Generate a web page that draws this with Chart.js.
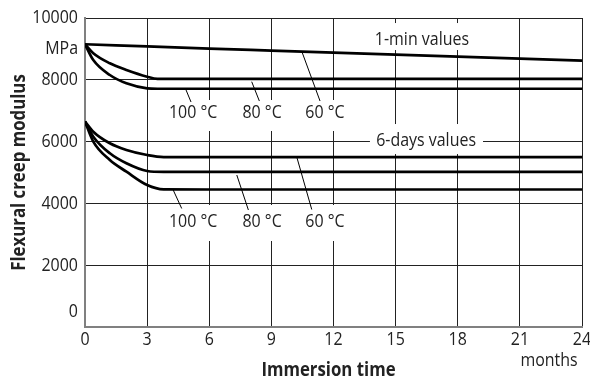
<!DOCTYPE html>
<html><head><meta charset="utf-8">
<script src="https://cdn.jsdelivr.net/npm/chart.js@4/dist/chart.umd.min.js"></script>
<style>html,body{margin:0;padding:0;background:#fff}#wrap{width:590px;height:379px;position:relative}</style>
</head><body><div id="wrap"><canvas id="c" width="590" height="379"></canvas></div>
<script>
// ---- data ----
const xTickValues = [0, 3, 6, 9, 12, 15, 18, 21, 24];
const xTickLabels = ['0', '3', '6', '9', '12', '15', '18', '21', '24'];
const yTickValues = [0, 2000, 4000, 6000, 8000, 9000, 10000];
const yTickLabels = ['0', '2000', '4000', '6000', '8000', 'MPa', '10000'];

// 1-min values
const min1_60C_x = [0, 3, 6, 9, 12, 15, 18, 21, 24];
const min1_60C_y = [9150, 9080, 9010, 8945, 8880, 8815, 8750, 8685, 8620];
const min1_80C_x = [0, 0.4, 1.2, 2.0, 3.0, 3.5, 6, 24];
const min1_80C_y = [9150, 8860, 8534, 8317, 8100, 8030, 8030, 8030];
const min1_100C_x = [0, 0.4, 1.2, 2.0, 3.0, 3.5, 6, 24];
const min1_100C_y = [9150, 8640, 8155, 7886, 7724, 7710, 7710, 7710];

// 6-days values
const day6_60C_x = [0, 0.4, 1.2, 2.0, 3.0, 3.8, 6, 24];
const day6_60C_y = [6650, 6320, 5945, 5728, 5566, 5500, 5500, 5500];
const day6_80C_x = [0, 0.4, 1.2, 2.0, 3.0, 3.8, 6, 24];
const day6_80C_y = [6650, 6160, 5621, 5298, 5049, 5020, 5020, 5020];
const day6_100C_x = [0, 0.4, 1.2, 2.0, 3.0, 3.8, 6, 24];
const day6_100C_y = [6650, 6000, 5404, 5026, 4595, 4455, 4450, 4450];

const seriesLabels = ['1-min 60 °C', '1-min 80 °C', '1-min 100 °C', '6-days 60 °C', '6-days 80 °C', '6-days 100 °C'];
const tempLabels = ['100 °C', '80 °C', '60 °C'];

// ---- helpers ----
const pts = (xs, ys) => xs.map((x, i) => ({ x: x, y: ys[i] }));
const FONT = '"Open Sans", "DejaVu Sans", sans-serif';
const REG = '19px ' + FONT;
const BOLD = 'bold 20px ' + FONT;
const SX = 0.84; // horizontal condensing of text
const TXT = '#222';

const mkDs = (label, xs, ys) => ({
  label, data: pts(xs, ys), borderColor: '#000', borderWidth: 2.7,
  pointRadius: 0, fill: false, cubicInterpolationMode: 'monotone'
});

function text(ctx, t, px, py, align, font, rot) {
  ctx.save();
  ctx.font = font;
  ctx.fillStyle = TXT;
  ctx.textAlign = align;
  ctx.textBaseline = 'middle';
  ctx.translate(px, py);
  if (rot) ctx.rotate(rot);
  ctx.scale(SX, 1);
  ctx.fillText(t, 0, 0);
  ctx.restore();
}

// annotations in data units
const boxes = [
  [3.86, 12.8, 7346, 6343],
  [3.86, 12.8, 3948, 2783],
  [13.86, 18.69, 9837, 8964],
  [13.76, 19.22, 6569, 5598]
];
const leaders = [
  [4.88, 7669, 5.12, 7281], [8.05, 7938, 8.42, 7313], [10.48, 8899, 11.35, 7313],
  [4.26, 4433, 4.67, 3835], [7.33, 4919, 7.89, 3786], [10.24, 5469, 10.95, 3802]
];
const tempLabelX = [5.22, 8.55, 11.59];
const tempLabelY = [6925, 3398];

const annot = {
  id: 'annot',
  beforeDatasetsDraw(chart) {
    const { ctx, scales: { x, y } } = chart;
    ctx.save();
    ctx.fillStyle = '#fff';
    boxes.forEach(b => {
      const x0 = x.getPixelForValue(b[0]), x1 = x.getPixelForValue(b[1]);
      const y0 = y.getPixelForValue(b[2]), y1 = y.getPixelForValue(b[3]);
      ctx.fillRect(x0, y0, x1 - x0, y1 - y0);
    });
    ctx.strokeStyle = '#000'; ctx.lineWidth = 1;
    leaders.forEach(l => {
      ctx.beginPath();
      ctx.moveTo(x.getPixelForValue(l[0]), y.getPixelForValue(l[1]));
      ctx.lineTo(x.getPixelForValue(l[2]), y.getPixelForValue(l[3]));
      ctx.stroke();
    });
    ctx.restore();
    tempLabelY.forEach(vy => tempLabels.forEach((t, i) => {
      text(ctx, t, x.getPixelForValue(tempLabelX[i]), y.getPixelForValue(vy), 'center', REG);
    }));
    text(ctx, '1-min values', x.getPixelForValue(16.27), y.getPixelForValue(9288), 'center', REG);
    text(ctx, '6-days values', x.getPixelForValue(16.47), y.getPixelForValue(6019), 'center', REG);
  },
  afterDraw(chart) {
    const { ctx, scales: { x, y } } = chart;
    // tick labels
    xTickValues.forEach((v, i) => text(ctx, xTickLabels[i], x.getPixelForValue(v), x.top + 13, 'center', REG));
    yTickValues.forEach((v, i) => {
      const off = v === 0 ? -15 : 0;
      text(ctx, yTickLabels[i], y.right - 7, y.getPixelForValue(v) + off, 'right', REG);
    });
    text(ctx, 'months', 549, 361, 'center', REG);
    text(ctx, 'Immersion time', 328.5, 370, 'center', BOLD);
    text(ctx, 'Flexural creep modulus', 19, (y.top + y.bottom) / 2, 'center', BOLD, -Math.PI / 2);
  }
};

new Chart(document.getElementById('c'), {
  type: 'line',
  data: {
    datasets: [
      mkDs(seriesLabels[0], min1_60C_x, min1_60C_y),
      mkDs(seriesLabels[1], min1_80C_x, min1_80C_y),
      mkDs(seriesLabels[2], min1_100C_x, min1_100C_y),
      mkDs(seriesLabels[3], day6_60C_x, day6_60C_y),
      mkDs(seriesLabels[4], day6_80C_x, day6_80C_y),
      mkDs(seriesLabels[5], day6_100C_x, day6_100C_y)
    ]
  },
  options: {
    responsive: false, animation: false, devicePixelRatio: 1,
    layout: { padding: { top: 18, right: 8, left: 0, bottom: 0 } },
    plugins: { legend: { display: false }, tooltip: { enabled: false } },
    scales: {
      x: {
        type: 'linear', min: 0, max: 24,
        afterBuildTicks: s => { s.ticks = xTickValues.map(v => ({ value: v })); },
        afterFit: s => { s.height = 52; s.paddingLeft = 0; s.paddingRight = 0; },
        ticks: { display: false },
        grid: { color: '#222', lineWidth: 1, drawTicks: false },
        border: { color: '#808080', width: 2 }
      },
      y: {
        min: 0, max: 10000,
        afterBuildTicks: s => { s.ticks = yTickValues.map(v => ({ value: v })); },
        afterFit: s => { s.width = 85; s.paddingTop = 0; s.paddingBottom = 0; },
        ticks: { display: false },
        grid: {
          color: c => (c.tick && c.tick.value === 9000) ? 'rgba(0,0,0,0)' : '#222',
          lineWidth: 1, drawTicks: false
        },
        border: { color: '#808080', width: 2 }
      }
    }
  },
  plugins: [annot]
});
</script>
</body></html>
